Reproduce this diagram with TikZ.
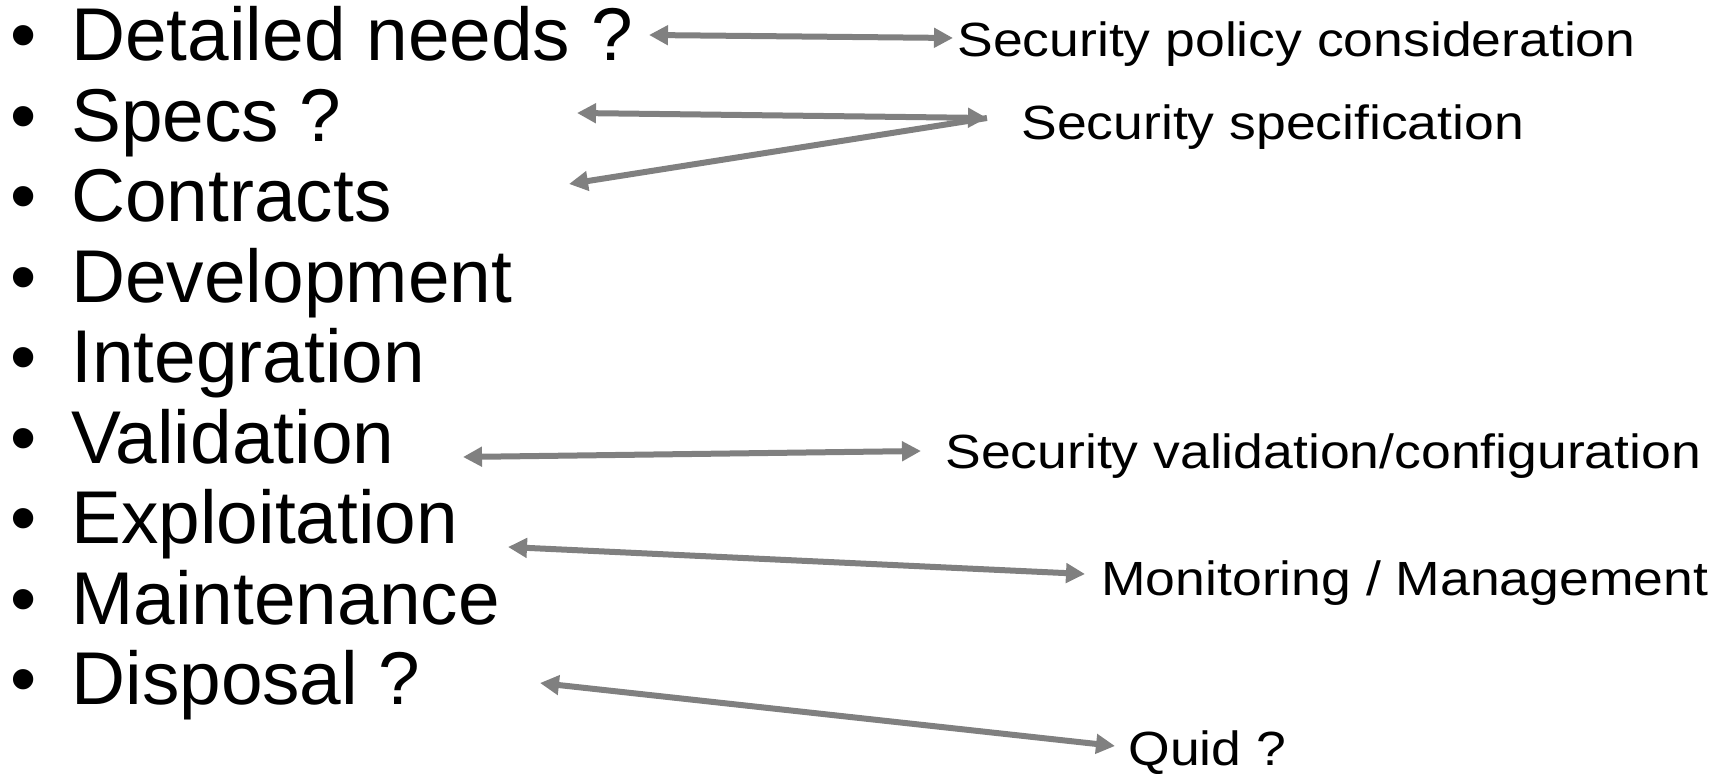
\documentclass[tikz,border=0pt]{standalone}
\usepackage{fontspec}
\setmainfont{Liberation Sans}
\newfontfamily\notefont[FakeStretch=1.115]{Liberation Sans}
\usetikzlibrary{arrows.meta}
\definecolor{arrowgray}{RGB}{128,128,128}
\tikzset{
  item/.style={anchor=base west, inner sep=0pt, font=\fontsize{37.4}{44}\selectfont},
  dot/.style={anchor=base, inner sep=0pt, font=\fontsize{37.4}{44}\selectfont},
  note/.style={anchor=base west, inner sep=0pt, font=\notefont\fontsize{24}{29}\selectfont},
  gtip/.tip={Triangle[length=9.5pt,width=9.5pt]},
  link/.style={draw=arrowgray, line width=3pt},
}
\begin{document}
\begin{tikzpicture}[x=0.5pt,y=-0.5pt]
\useasboundingbox (0,0) rectangle (1725,774);

% life-cycle phases
\node[dot]  (d1) at (24,61)    {•};
\node[item] (i1) at (71,61)    {Detailed needs ?};
\node[dot]  (d2) at (24,141.5) {•};
\node[item] (i2) at (71,141.5) {Specs ?};
\node[dot]  (d3) at (24,222)   {•};
\node[item] (i3) at (71,222)   {Contracts};
\node[dot]  (d4) at (24,302.5) {•};
\node[item] (i4) at (71,302.5) {Development};
\node[dot]  (d5) at (24,383)   {•};
\node[item] (i5) at (71,383)   {Integration};
\node[dot]  (d6) at (24,463.5) {•};
\node[item] (i6) at (71,463.5) {Validation};
\node[dot]  (d7) at (24,544)   {•};
\node[item] (i7) at (71,544)   {Exploitation};
\node[dot]  (d8) at (24,624.5) {•};
\node[item] (i8) at (71,624.5) {Maintenance};
\node[dot]  (d9) at (24,705)   {•};
\node[item] (i9) at (71,705)   {Disposal ?};

% matching security activities
\node[note] (n1) at (957,57)   {Security policy consideration};
\node[note] (n2) at (1021,140) {Security specification};
\node[note] (n3) at (945,469)  {Security validation/configuration};
\node[note] (n4) at (1101,596) {Monitoring / Management};
\node[note] (n5) at (1128,766) {Quid ?};

% arrow end points next to each text
\coordinate (a1l) at (649,35);
\coordinate (a1r) at (953,38);
\coordinate (a2l) at (577,113);
\coordinate (a2r) at (987,118);
\coordinate (a3l) at (569,184);
\coordinate (a4l) at (463,457);
\coordinate (a4r) at (921,451);
\coordinate (a5l) at (508,547);
\coordinate (a5r) at (1085,574);
\coordinate (a6l) at (540,683);
\coordinate (a6r) at (1115,746);

\draw[link, gtip-gtip] (a1l) -- (a1r);
\draw[link, gtip-gtip] (a2l) -- (a2r);
\draw[link, gtip-] (a3l) -- (a2r);
\draw[link, gtip-gtip] (a4l) -- (a4r);
\draw[link, gtip-gtip] (a5l) -- (a5r);
\draw[link, gtip-gtip] (a6l) -- (a6r);
\end{tikzpicture}
\end{document}
